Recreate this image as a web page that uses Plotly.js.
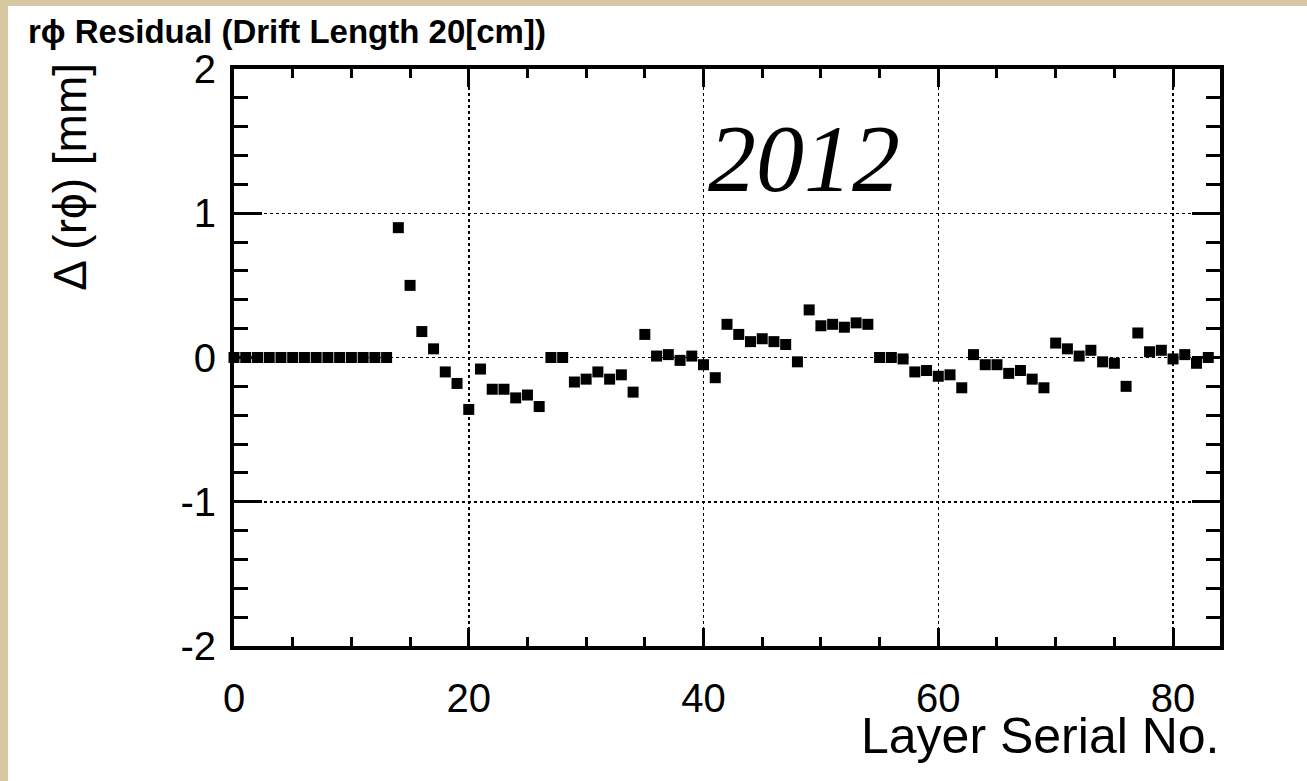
<!DOCTYPE html>
<html>
<head>
<meta charset="utf-8">
<script src="https://cdn.plot.ly/plotly-3.0.1.min.js"></script>
<style>
  html, body { margin: 0; padding: 0; background: #d8c7a3; }
  #plot { width: 1307px; height: 781px; }
</style>
</head>
<body>
<div id="plot"></div>
<script>
// Layer serial numbers (x) and mean r-phi residuals in mm (y)
const layerNo = [
  0, 1, 2, 3, 4, 5, 6, 7, 8, 9, 10, 11, 12, 13, 14, 15, 16, 17, 18, 19,
  20, 21, 22, 23, 24, 25, 26, 27, 28, 29, 30, 31, 32, 33, 34, 35, 36, 37, 38, 39,
  40, 41, 42, 43, 44, 45, 46, 47, 48, 49, 50, 51, 52, 53, 54, 55, 56, 57, 58, 59,
  60, 61, 62, 63, 64, 65, 66, 67, 68, 69, 70, 71, 72, 73, 74, 75, 76, 77, 78, 79,
  80, 81, 82, 83
];
const residual = [
  0, 0, 0, 0, 0, 0, 0, 0, 0, 0, 0, 0, 0, 0, 0.90, 0.50, 0.18, 0.06, -0.10, -0.18,
  -0.36, -0.08, -0.22, -0.22, -0.28, -0.26, -0.34, 0, 0, -0.17, -0.15, -0.10, -0.15, -0.12, -0.24, 0.16, 0.01, 0.02, -0.02, 0.01,
  -0.05, -0.14, 0.23, 0.16, 0.11, 0.13, 0.11, 0.09, -0.03, 0.33, 0.22, 0.23, 0.21, 0.24, 0.23, 0, 0, -0.01, -0.10, -0.09,
  -0.13, -0.12, -0.21, 0.02, -0.05, -0.05, -0.11, -0.09, -0.15, -0.21, 0.10, 0.06, 0.01, 0.05, -0.03, -0.04, -0.20, 0.17, 0.04, 0.05,
  -0.01, 0.02, -0.04, 0
];

// Axis ranges and tick labels
const xRange = [0, 84];
const yRange = [-2, 2];
const xTickVals = [0, 20, 40, 60, 80];
const xTickText = ['0', '20', '40', '60', '80'];
const yTickVals = [-2, -1, 0, 1, 2];
const yTickText = ['-2', '-1', '0', '1', '2'];

const plotTitle = 'r\u03d5 Residual (Drift Length 20[cm])';
const xTitle = 'Layer Serial No.';
const yTitle = '\u0394 (r\u03d5) [mm]';
const yearLabel = '2012';

const sans = 'Liberation Sans, Arial, Helvetica, sans-serif';
const serif = 'Liberation Serif, Times New Roman, serif';

const trace = {
  x: layerNo,
  y: residual,
  type: 'scatter',
  mode: 'markers',
  marker: { symbol: 'square', size: 11, color: '#000000' },
  cliponaxis: false,
  hoverinfo: 'x+y'
};

const axisCommon = {
  showline: true,
  linecolor: '#000000',
  linewidth: 4,
  mirror: 'ticks',
  ticks: 'inside',
  tickcolor: '#000000',
  tickwidth: 3,
  showgrid: true,
  gridcolor: '#000000',
  griddash: 'dot',
  gridwidth: 1.5,
  zeroline: false,
  tickfont: { family: sans, size: 40, color: '#000000' },
  fixedrange: true
};

const layout = {
  width: 1307,
  height: 781,
  margin: { l: 234, r: 87, t: 69, b: 135 },
  paper_bgcolor: '#d8c7a3',
  plot_bgcolor: '#ffffff',
  showlegend: false,
  xaxis: Object.assign({}, axisCommon, {
    range: xRange,
    tickmode: 'array',
    tickvals: xTickVals,
    ticktext: xTickText,
    ticklen: 18,
    ticklabelstandoff: 14,
    minor: { dtick: 5, tick0: 0, ticks: 'inside', ticklen: 9, tickwidth: 3, tickcolor: '#000000', showgrid: false }
  }),
  yaxis: Object.assign({}, axisCommon, {
    range: yRange,
    tickmode: 'array',
    tickvals: yTickVals,
    ticktext: yTickText,
    ticklen: 28,
    ticklabelstandoff: 6,
    minor: { dtick: 0.2, tick0: 0, ticks: 'inside', ticklen: 14, tickwidth: 3, tickcolor: '#000000', showgrid: false }
  }),
  shapes: [
    {
      type: 'rect', xref: 'paper', yref: 'paper', layer: 'below',
      x0: -0.2292, x1: 1.2, y0: -0.3, y1: 1.109,
      fillcolor: '#ffffff', line: { width: 0 }
    }
  ],
  annotations: [
    {
      text: '<b>' + plotTitle + '</b>', xref: 'paper', yref: 'paper',
      x: -0.211, y: 1.065, xanchor: 'left', yanchor: 'middle', showarrow: false,
      font: { family: sans, size: 33, color: '#000000' }
    },
    {
      text: yTitle, xref: 'paper', yref: 'paper', textangle: -90,
      x: -0.166, y: 0.814, xanchor: 'center', yanchor: 'middle', showarrow: false,
      font: { family: sans, size: 46, color: '#000000' }
    },
    {
      text: xTitle, xref: 'paper', yref: 'paper',
      x: 1.002, y: -0.156, xanchor: 'right', yanchor: 'middle', showarrow: false,
      font: { family: sans, size: 50, color: '#000000' }
    },
    {
      text: yearLabel, xref: 'x', yref: 'y',
      x: 48.6, y: 1.38, xanchor: 'center', yanchor: 'middle', showarrow: false,
      font: { family: serif, size: 96, color: '#000000', style: 'italic' }
    }
  ]
};

Plotly.newPlot('plot', [trace], layout, { displayModeBar: false, staticPlot: true });
</script>
</body>
</html>
